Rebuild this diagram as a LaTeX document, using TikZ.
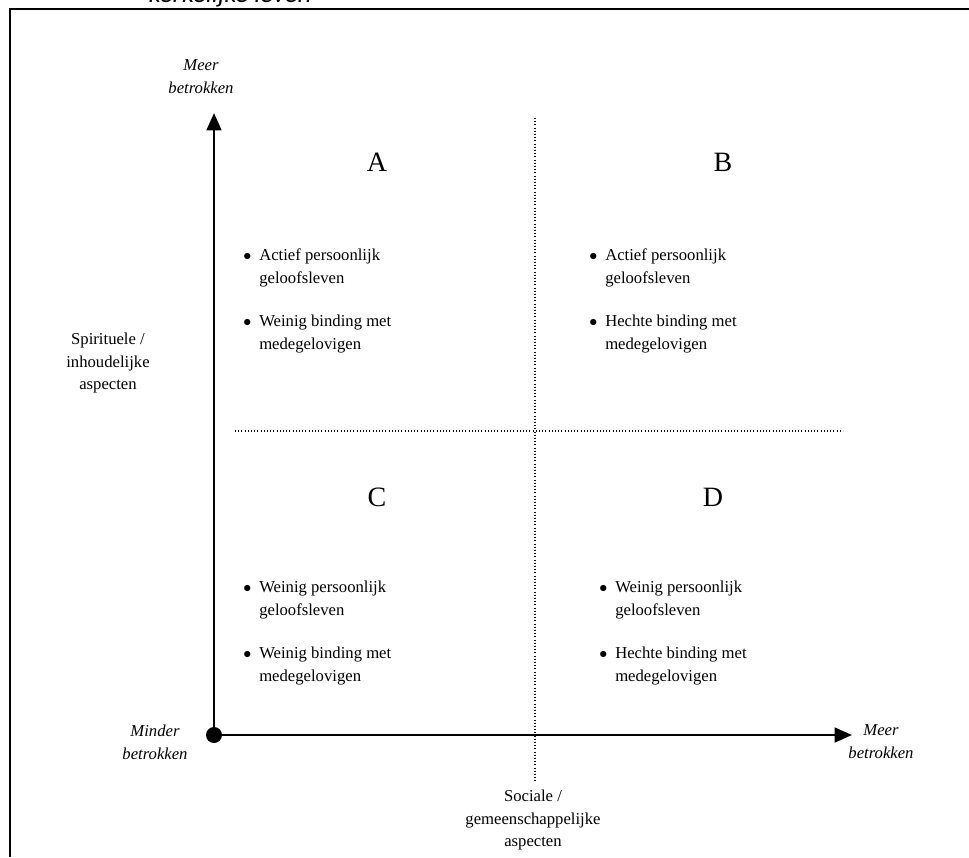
\documentclass[tikz,border=0pt]{standalone}
\usepackage{fontspec}
\setmainfont{Liberation Serif}
\newfontfamily\kopfont{Carlito}
\usetikzlibrary{arrows.meta}
\newcommand{\punt}[2]{\begin{tabular}[t]{@{}l@{\hspace{6pt}}l@{}}$\bullet$ & #1\\ & #2\end{tabular}}

\begin{document}
\begin{tikzpicture}[x=0.75pt,y=-0.75pt]

	\tikzstyle{kader}=[line width=1.5pt, black]
	\tikzstyle{pijl}=[-{Triangle[length=13pt,width=11pt]}, line width=2pt, black]
	\tikzstyle{raster}=[line width=0.8pt, dash pattern=on 0.8pt off 1.6pt]
	\tikzstyle{letter}=[inner sep=0pt, font=\fontsize{21}{24}\selectfont]
	\tikzstyle{kenmerk}=[anchor=north west, inner sep=0pt, font=\fontsize{12.5}{17.2}\selectfont]
	\tikzstyle{aslabel}=[align=center, inner sep=0pt, font=\fontsize{12.5}{17.2}\selectfont]
	\tikzstyle{richting}=[align=center, inner sep=0pt, font=\fontsize{12.5}{17.2}\selectfont\itshape]
	\tikzstyle{stip}=[circle, fill=black, inner sep=0pt, minimum size=12pt]

	\useasboundingbox (0,0) rectangle (969,857);

	% kader
	\node[anchor=base, inner sep=0pt, font=\kopfont\fontsize{20}{22}\selectfont\itshape] (kop) at (230,2) {kerkelijke leven};
	\draw[kader] (10,857) -- (10,9) -- (969,9);

	% assen
	\node[stip] (O) at (214,735) {};
	\coordinate (ytop) at (214,113);
	\coordinate (xend) at (852,735);
	\draw[pijl] (O.center) -- (ytop);
	\draw[pijl] (O.center) -- (xend);

	% raster
	\coordinate (h1) at (235,431);
	\coordinate (h2) at (843,431);
	\coordinate (v1) at (535,118);
	\coordinate (v2) at (535,783);
	\draw[raster] (h1) -- (h2);
	\draw[raster] (v1) -- (v2);

	% labels bij de assen
	\node[richting] (ymeer) at (201,77) {Meer\\betrokken};
	\node[richting] (minder) at (155,742) {Minder\\betrokken};
	\node[richting] (xmeer) at (881,742) {Meer\\betrokken};
	\node[aslabel] (yas) at (108,363) {Spirituele /\\inhoudelijke\\aspecten};
	\node[aslabel] (xas) at (533,820) {Sociale /\\gemeenschappelijke\\aspecten};

	% kwadranten
	\node[letter] (A) at (377,162) {A};
	\node[letter] (B) at (723,162) {B};
	\node[letter] (C) at (377,497) {C};
	\node[letter] (D) at (713,497) {D};

	\node[kenmerk] (a1) at (243,244) {\punt{Actief persoonlijk}{geloofsleven}};
	\node[kenmerk] (a2) at (243,310) {\punt{Weinig binding met}{medegelovigen}};
	\node[kenmerk] (b1) at (589,244) {\punt{Actief persoonlijk}{geloofsleven}};
	\node[kenmerk] (b2) at (589,310) {\punt{Hechte binding met}{medegelovigen}};
	\node[kenmerk] (c1) at (243,576) {\punt{Weinig persoonlijk}{geloofsleven}};
	\node[kenmerk] (c2) at (243,642) {\punt{Weinig binding met}{medegelovigen}};
	\node[kenmerk] (d1) at (599,576) {\punt{Weinig persoonlijk}{geloofsleven}};
	\node[kenmerk] (d2) at (599,642) {\punt{Hechte binding met}{medegelovigen}};

\end{tikzpicture}
\end{document}
